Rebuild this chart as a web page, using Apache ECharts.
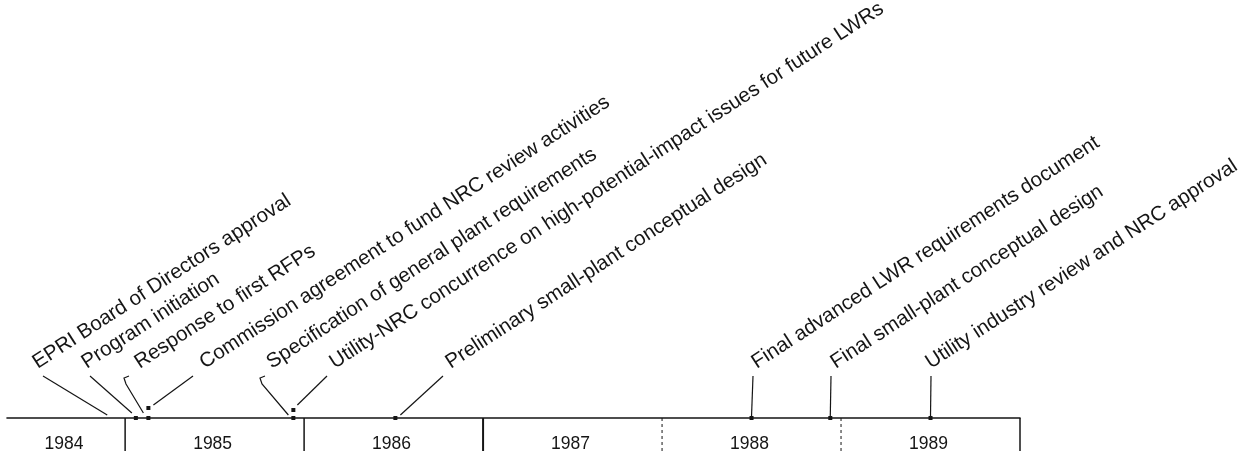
<!DOCTYPE html>
<html>
<head>
<meta charset="utf-8">
<script src="https://cdn.jsdelivr.net/npm/echarts@6/dist/echarts.min.js"></script>
<style>
html,body{margin:0;padding:0;background:#fff;}
#chart{width:1253px;height:453px;}
</style>
</head>
<body>
<div id="chart"></div>
<script>
// ---------- DATA ----------
const yearLabels = ['1984', '1985', '1986', '1987', '1988', '1989'];
const timelineStart = 1984.34;
const timelineEnd = 1990.0;

const eventNames = [
  'EPRI Board of Directors approval',
  'Program initiation',
  'Response to first RFPs',
  'Commission agreement to fund NRC review activities',
  'Specification of general plant requirements',
  'Utility-NRC concurrence on high-potential-impact issues for future LWRs',
  'Preliminary small-plant conceptual design',
  'Final advanced LWR requirements document',
  'Final small-plant conceptual design',
  'Utility industry review and NRC approval'
];
const eventDates = [1984.90, 1985.06, 1985.13, 1985.13, 1985.94, 1985.94, 1986.51, 1988.50, 1988.94, 1989.50];

// ---------- LAYOUT (presentation only) ----------
const leaderTopX   = [43, 90, 126, 193, 262, 327, 443, 753, 831, 931];   // px, top of leader line
const labelStartX  = [33, 82, 135, 200, 267, 330, 446, 752, 831, 926];   // px, start of rotated text
const leaderShape  = ['line', 'line', 'hook', 'line', 'hook', 'line', 'line', 'line', 'line', 'line'];
const leaderEndDx  = [0, -4, -5, 5, -5, 4, 5, 0, 0, 0];                  // px offset from event point
const leaderEndDy  = [-3, -5, -5, -13, -3, -13, -3, -2, -2, -2];
const dotLift      = [null, 0, 0, 10, 0, 8, 0, 0, 0, 0];                   // px above axis (null = no dot)
const dividerDash  = ['solid', 'solid', 'solid', [3, 3], [3, 3], 'solid'];
const dividerWidth = [1.5, 1.5, 2, 1, 1, 1.5];

const INK = '#151515';
const LABEL_FONT = '20.5px "Liberation Sans", Arial, Helvetica, sans-serif';
const YEAR_FONT = '17.5px "Liberation Sans", Arial, Helvetica, sans-serif';
const ANGLE = 33 * Math.PI / 180;

const chart = echarts.init(document.getElementById('chart'), null, {renderer: 'canvas'});

function renderEvent(params, api) {
  const i = params.dataIndex;
  const p = api.coord([api.value(0), 0]);
  const axisY = p[1];
  const topX = leaderTopX[i];
  const topY = axisY - 42;
  const endX = p[0] + leaderEndDx[i];
  const endY = axisY + leaderEndDy[i];
  const children = [];
  let pts;
  if (leaderShape[i] === 'hook') {
    pts = [[topX + 3, topY], [topX - 2, topY + 2], [topX, topY + 8], [endX, endY]];
  } else {
    pts = [[topX, topY], [endX, endY]];
  }
  children.push({
    type: 'polyline',
    shape: {points: pts},
    style: {stroke: INK, lineWidth: 1.2, fill: null}
  });
  if (dotLift[i] !== null) {
    children.push({
      type: 'rect',
      shape: {x: p[0] - 2, y: axisY - dotLift[i] - 2, width: 4, height: 4},
      style: {fill: INK}
    });
  }
  children.push({
    type: 'text',
    x: labelStartX[i] + 7.5,
    y: axisY - 45,
    rotation: ANGLE,
    style: {
      text: eventNames[i],
      fill: INK,
      font: LABEL_FONT,
      align: 'left',
      verticalAlign: 'bottom'
    }
  });
  return {type: 'group', children: children};
}

function renderYear(params, api) {
  const i = params.dataIndex;
  const y0 = api.value(0);
  const xs = Math.max(y0, timelineStart);
  const xe = Math.min(y0 + 1, timelineEnd);
  const c = api.coord([(xs + xe) / 2, 0]);
  const d = api.coord([xe, 0]);
  const axisY = c[1];
  const dash = dividerDash[i];
  return {
    type: 'group',
    children: [
      {
        type: 'line',
        shape: {x1: d[0], y1: axisY, x2: d[0], y2: axisY + 33},
        style: {stroke: INK, lineWidth: dividerWidth[i], lineDash: dash === 'solid' ? null : dash}
      },
      {
        type: 'text',
        x: c[0] - 2,
        y: axisY + 26,
        style: {
          text: yearLabels[i],
          fill: INK,
          font: YEAR_FONT,
          align: 'center',
          verticalAlign: 'middle'
        }
      }
    ]
  };
}

chart.setOption({
  animation: false,
  backgroundColor: '#ffffff',
  grid: {left: 7, right: 233, top: 0, bottom: 0, containLabel: false},
  xAxis: {
    type: 'value',
    min: timelineStart,
    max: timelineEnd,
    axisLine: {show: true, onZero: true, lineStyle: {color: INK, width: 1.6}},
    axisTick: {show: false},
    axisLabel: {show: false},
    splitLine: {show: false}
  },
  yAxis: {
    type: 'value',
    min: -35,
    max: 418,
    show: false,
    splitLine: {show: false}
  },
  series: [
    {
      type: 'custom',
      clip: false,
      silent: true,
      data: yearLabels.map((y, i) => [Number(y), i]),
      renderItem: renderYear
    },
    {
      type: 'custom',
      clip: false,
      silent: true,
      data: eventDates.map((d, i) => [d, i]),
      renderItem: renderEvent
    }
  ]
});
</script>
</body>
</html>
